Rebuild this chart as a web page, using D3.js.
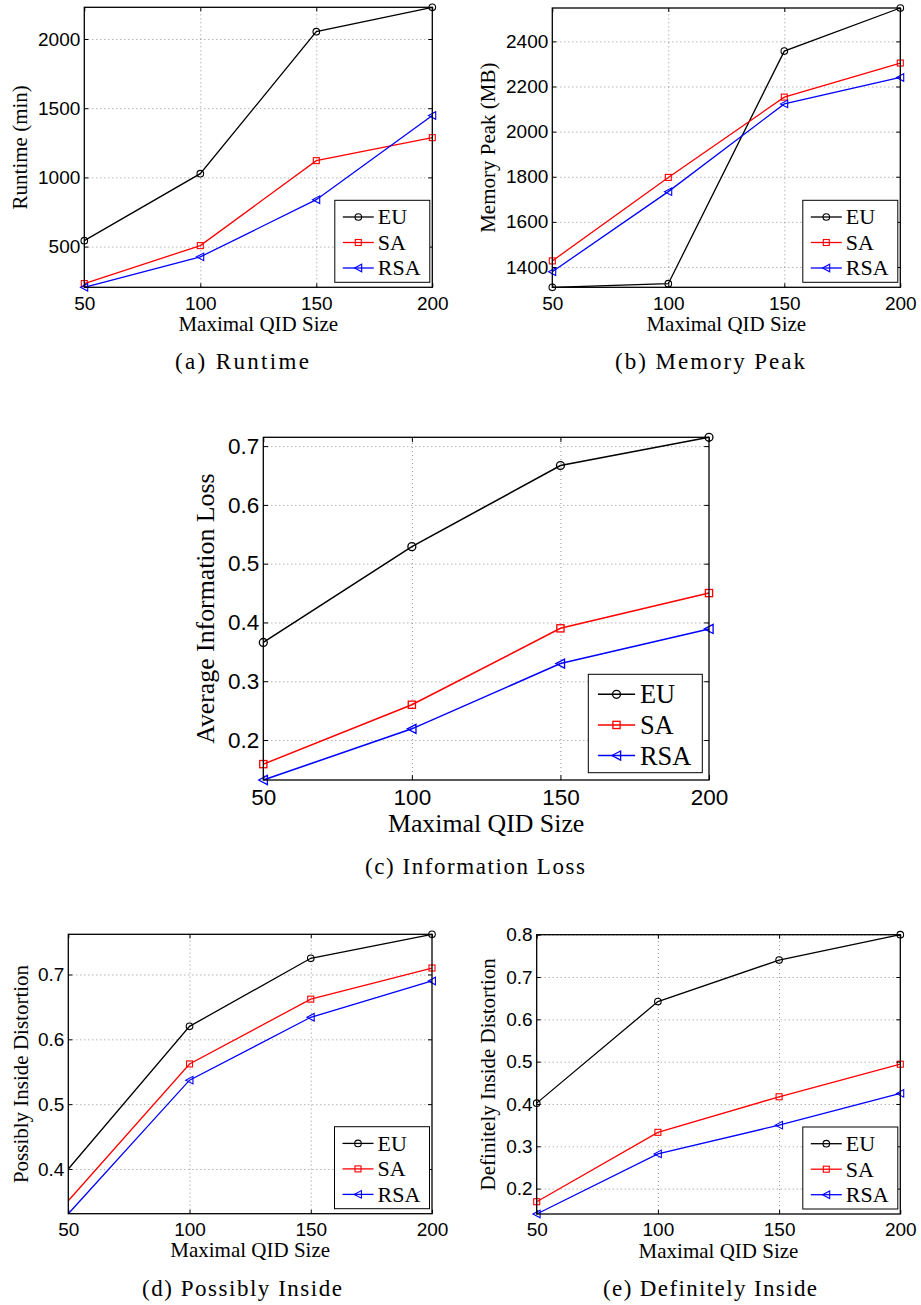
<!DOCTYPE html>
<html>
<head>
<meta charset="utf-8">
<script src="https://cdn.jsdelivr.net/npm/d3@7"></script>
<style>
  body { margin: 0; background: #fff; }
  svg { display: block; }
</style>
</head>
<body>
<div id="chart"></div>
<script>
// x values shared by every panel
const qidSizes = [50, 100, 150, 200];
const seriesNames = ["EU", "SA", "RSA"];

// (a) runtime in minutes
const runtimeEU = [543, 1027, 2053, 2229];
const runtimeSA = [233, 507, 1121, 1287];
const runtimeRSA = [206, 426, 839, 1447];
const runtimeTicks = [500, 1000, 1500, 2000];

// (b) memory peak in MB
const memoryEU = [1310, 1326, 2357, 2548];
const memorySA = [1427, 1797, 2153, 2304];
const memoryRSA = [1379, 1734, 2123, 2240];
const memoryTicks = [1400, 1600, 1800, 2000, 2200, 2400];

// (c) average information loss
const lossEU = [0.366, 0.529, 0.667, 0.715];
const lossSA = [0.159, 0.260, 0.390, 0.450];
const lossRSA = [0.132, 0.219, 0.330, 0.389];
const lossTicks = [0.2, 0.3, 0.4, 0.5, 0.6, 0.7];

// (d) possibly inside distortion
const possiblyEU = [0.400, 0.620, 0.725, 0.762];
const possiblySA = [0.351, 0.562, 0.662, 0.710];
const possiblyRSA = [0.331, 0.537, 0.634, 0.690];
const possiblyTicks = [0.4, 0.5, 0.6, 0.7];

// (e) definitely inside distortion
const definitelyEU = [0.402, 0.642, 0.740, 0.800];
const definitelySA = [0.169, 0.333, 0.417, 0.494];
const definitelyRSA = [0.140, 0.282, 0.350, 0.425];
const definitelyTicks = [0.2, 0.3, 0.4, 0.5, 0.6, 0.7, 0.8];

const colors = { EU: "#000000", SA: "#ff0000", RSA: "#0000ff" };
const sans = "'Liberation Sans', Arial, Helvetica, sans-serif";
const serif = "'Liberation Serif', 'Times New Roman', serif";

const panels = [
  { box: [84.3, 432.3, 7.3, 287.3], series: [runtimeEU, runtimeSA, runtimeRSA], ticks: runtimeTicks, fmt: d3.format("d"),
    ylabel: "Runtime (min)", ylOff: 64, caption: "(a) Runtime", capX: 242, capY: 361, capW: 134, k: 1, markerFrom: 0 },
  { box: [552.3, 900.3, 8, 287.3], series: [memoryEU, memorySA, memoryRSA], ticks: memoryTicks, fmt: d3.format("d"),
    ylabel: "Memory Peak (MB)", ylOff: 64, caption: "(b) Memory Peak", capX: 710, capY: 361, capW: 190, k: 1, markerFrom: 0 },
  { box: [263.3, 709, 437.3, 780], series: [lossEU, lossSA, lossRSA], ticks: lossTicks, fmt: d3.format(".1f"),
    ylabel: "Average Information Loss", ylOff: 58, caption: "(c) Information Loss", capX: 475, capY: 866, capW: 220, k: 1.2, markerFrom: 0 },
  { box: [68.3, 432, 934.3, 1213.7], series: [possiblyEU, possiblySA, possiblyRSA], ticks: possiblyTicks, fmt: d3.format(".1f"),
    ylabel: "Possibly Inside Distortion", ylOff: 47.6, caption: "(d) Possibly Inside", capX: 242, capY: 1288, capW: 200, k: 1, markerFrom: 1 },
  { box: [536.7, 900.3, 934.7, 1214], series: [definitelyEU, definitelySA, definitelyRSA], ticks: definitelyTicks, fmt: d3.format(".1f"),
    ylabel: "Definitely Inside Distortion", ylOff: 48.4, caption: "(e) Definitely Inside", capX: 710, capY: 1288, capW: 214, k: 1, markerFrom: 0 }
];

const svg = d3.select("#chart").append("svg")
  .attr("width", 921)
  .attr("height", 1305);

function drawMarker(g, name, cx, cy, k) {
  const c = colors[name];
  if (name === "EU") {
    g.append("circle").attr("cx", cx).attr("cy", cy).attr("r", 3.3 * k)
      .attr("fill", "none").attr("stroke", c).attr("stroke-width", 1.1 * k);
  } else if (name === "SA") {
    const s = 3 * k;
    g.append("rect").attr("x", cx - s).attr("y", cy - s).attr("width", 2 * s).attr("height", 2 * s)
      .attr("fill", "none").attr("stroke", c).attr("stroke-width", 1.1 * k);
  } else {
    const s = 3.8 * k;
    g.append("path")
      .attr("d", `M${cx - s},${cy} L${cx + s * 0.9},${cy - s} L${cx + s * 0.9},${cy + s} Z`)
      .attr("fill", "none").attr("stroke", c).attr("stroke-width", 1.1 * k);
  }
}

function styleText(g, fs, family) {
  g.attr("font-family", family).attr("font-size", fs);
  g.selectAll("text").attr("fill", "#000");
}

panels.forEach(p => {
  const [x0, x1, y0, y1] = p.box;
  const k = p.k;
  const allVals = [].concat(...p.series);

  const x = d3.scaleLinear().domain([50, 200]).range([x0, x1]);
  const y = d3.scaleLinear().domain(d3.extent(allVals)).range([y1, y0]);

  const g = svg.append("g");

  // dotted grid
  g.append("g")
    .attr("transform", `translate(0,${y1})`)
    .call(d3.axisBottom(x).tickValues(qidSizes.slice(1, -1)).tickSize(-(y1 - y0)).tickFormat(""))
    .call(a => a.select(".domain").remove())
    .selectAll("line").attr("stroke", "#777").attr("stroke-width", 0.8).attr("stroke-dasharray", "1,3");
  g.append("g")
    .attr("transform", `translate(${x0},0)`)
    .call(d3.axisLeft(y).tickValues(p.ticks).tickSize(-(x1 - x0)).tickFormat(""))
    .call(a => a.select(".domain").remove())
    .selectAll("line").attr("stroke", "#777").attr("stroke-width", 0.8).attr("stroke-dasharray", "1,3");

  // series lines and markers
  const line = d3.line().x((d, i) => x(qidSizes[i])).y(d => y(d));
  seriesNames.forEach((name, si) => {
    g.append("path")
      .datum(p.series[si])
      .attr("d", line)
      .attr("fill", "none")
      .attr("stroke", colors[name])
      .attr("stroke-width", 1.3 * k);
    p.series[si].forEach((v, i) => {
      if (i >= p.markerFrom) drawMarker(g, name, x(qidSizes[i]), y(v), k);
    });
  });

  // inner tick marks on all four sides
  const tl = 4 * k;
  [[d3.axisBottom(x).tickValues(qidSizes), `translate(0,${y1})`],
   [d3.axisTop(x).tickValues(qidSizes), `translate(0,${y0})`],
   [d3.axisLeft(y).tickValues(p.ticks), `translate(${x0},0)`],
   [d3.axisRight(y).tickValues(p.ticks), `translate(${x1},0)`]].forEach(([ax, tr]) => {
    g.append("g").attr("transform", tr)
      .call(ax.tickSize(-tl).tickFormat(""))
      .call(a => a.select(".domain").remove())
      .selectAll("line").attr("stroke", "#000").attr("stroke-width", 1);
  });

  // frame
  g.append("rect")
    .attr("x", x0).attr("y", y0)
    .attr("width", x1 - x0).attr("height", y1 - y0)
    .attr("fill", "none").attr("stroke", "#000").attr("stroke-width", 1.3);

  // tick labels
  const tfs = k > 1 ? 22.5 : 19;
  g.append("g")
    .attr("transform", `translate(0,${y1})`)
    .call(d3.axisBottom(x).tickValues(qidSizes).tickSize(0).tickPadding(k > 1 ? 9.5 : 9).tickFormat(d3.format("d")))
    .call(a => a.select(".domain").remove())
    .call(a => styleText(a, tfs, sans));
  g.append("g")
    .attr("transform", `translate(${x0},0)`)
    .call(d3.axisLeft(y).tickValues(p.ticks).tickSize(0).tickPadding(4).tickFormat(p.fmt))
    .call(a => a.select(".domain").remove())
    .call(a => styleText(a, tfs, sans));

  // axis titles
  const lfs = k > 1 ? 25.8 : 21;
  g.append("text")
    .attr("x", (x0 + x1) / 2)
    .attr("y", y1 + (k > 1 ? 43 : 36.5))
    .attr("text-anchor", "middle")
    .attr("dominant-baseline", "central")
    .attr("font-family", serif)
    .attr("font-size", lfs)
    .text("Maximal QID Size");
  g.append("text")
    .attr("transform", `translate(${x0 - p.ylOff},${(y0 + y1) / 2}) rotate(-90)`)
    .attr("text-anchor", "middle")
    .attr("dominant-baseline", "central")
    .attr("font-family", serif)
    .attr("font-size", lfs)
    .text(p.ylabel);

  // legend
  const lw = 95 * k, lh = 82 * k;
  const lx = x1 - (k > 1 ? 6.7 : 2.5) - lw;
  const ly = y1 - (k > 1 ? 7.3 : 5) - lh;
  const leg = g.append("g").attr("transform", `translate(${lx},${ly})`);
  leg.append("rect").attr("width", lw).attr("height", lh)
    .attr("fill", "#fff").attr("stroke", "#000").attr("stroke-width", 1);
  seriesNames.forEach((name, i) => {
    const ry = (16.7 + i * 25.5) * k;
    leg.append("line")
      .attr("x1", 8 * k).attr("x2", 39 * k).attr("y1", ry).attr("y2", ry)
      .attr("stroke", colors[name]).attr("stroke-width", 1.3 * k);
    drawMarker(leg, name, 23.5 * k, ry, k);
    leg.append("text")
      .attr("x", 43 * k).attr("y", ry)
      .attr("dominant-baseline", "central")
      .attr("font-family", serif)
      .attr("font-size", 22 * k)
      .text(name);
  });

  // caption
  svg.append("text")
    .attr("x", p.capX).attr("y", p.capY)
    .attr("text-anchor", "middle")
    .attr("dominant-baseline", "central")
    .attr("font-family", serif)
    .attr("font-size", 23)
    .attr("textLength", p.capW)
    .attr("lengthAdjust", "spacing")
    .text(p.caption);
});
</script>
</body>
</html>
